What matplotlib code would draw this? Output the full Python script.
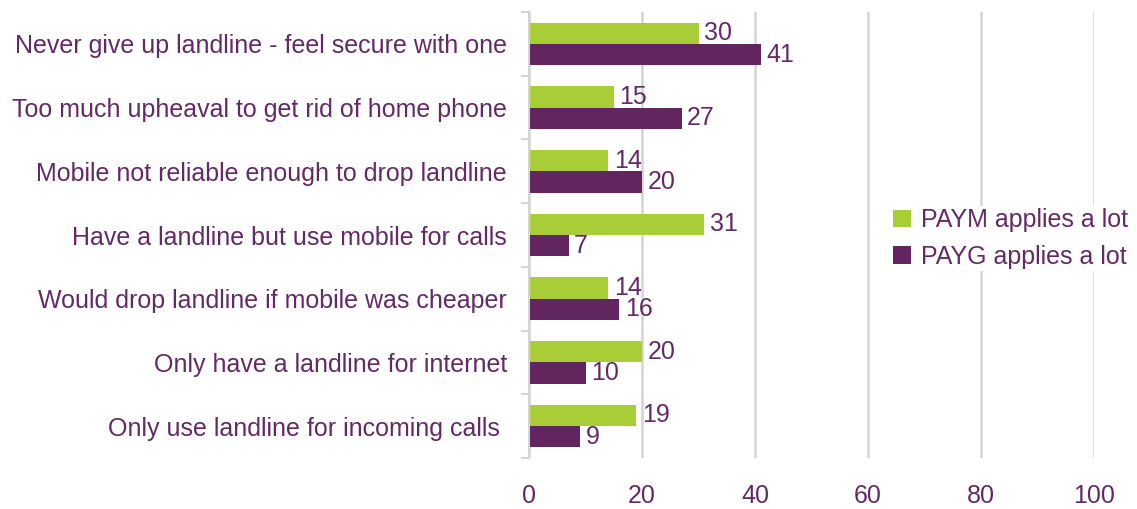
import numpy as np
import matplotlib.pyplot as plt

plt.rcParams['font.family'] = ['Liberation Sans', 'DejaVu Sans']

categories = [
    "Never give up landline - feel secure with one",
    "Too much upheaval to get rid of home phone",
    "Mobile not reliable enough to drop landline",
    "Have a landline but use mobile for calls",
    "Would drop landline if mobile was cheaper",
    "Only have a landline for internet",
    "Only use landline for incoming calls ",
]
paym = [30, 15, 14, 31, 14, 20, 19]
payg = [41, 27, 20, 7, 16, 10, 9]
xticks = [0, 20, 40, 60, 80, 100]

text_col = "#642a66"
green = "#a9cd37"
purple = "#62255f"
grid_col = "#d4d4d4"
fs = 18

fig = plt.figure(figsize=(11.37, 5.09), dpi=100)
ax = fig.add_axes([0.4653, 0.1002, 0.4969, 0.8762])

y = np.arange(len(categories))
h = 0.335
b1 = ax.barh(y - h / 2, paym, height=h, color=green, label="PAYM applies a lot")
b2 = ax.barh(y + h / 2, payg, height=h, color=purple, label="PAYG applies a lot")
for bars in (b1, b2):
    ax.bar_label(bars, padding=4, fontsize=fs, color=text_col)

ax.set_xlim(0, 100)
ax.set_ylim(len(categories) - 0.5, -0.5)
ax.set_xticks(xticks)
ax.set_xticklabels([str(v) for v in xticks])
ax.set_yticks(y)
ax.set_yticklabels(categories)
ax.set_yticks(np.arange(-0.5, len(categories)), minor=True)

ax.tick_params(axis='x', length=0, pad=19, labelsize=fs, labelcolor=text_col)
ax.tick_params(axis='y', which='major', length=0, pad=16, labelsize=fs,
               labelcolor=text_col)
ax.tick_params(axis='y', which='minor', length=6, width=1.5, color=grid_col)

ax.grid(axis='x', color=grid_col, linewidth=1.8)
ax.set_axisbelow(True)
for side in ('top', 'right', 'bottom'):
    ax.spines[side].set_visible(False)
ax.spines['left'].set_color(grid_col)
ax.spines['left'].set_linewidth(1.5)

leg = ax.legend(loc='center left', bbox_to_anchor=(0.64, 0.492), frameon=True,
                facecolor='white', edgecolor='none', framealpha=1,
                fontsize=fs, handlelength=0.7, handleheight=0.7,
                handletextpad=0.4, labelspacing=0.5, borderpad=0.1,
                borderaxespad=0)
for t in leg.get_texts():
    t.set_color(text_col)

fig.savefig("out.png", dpi=100)
